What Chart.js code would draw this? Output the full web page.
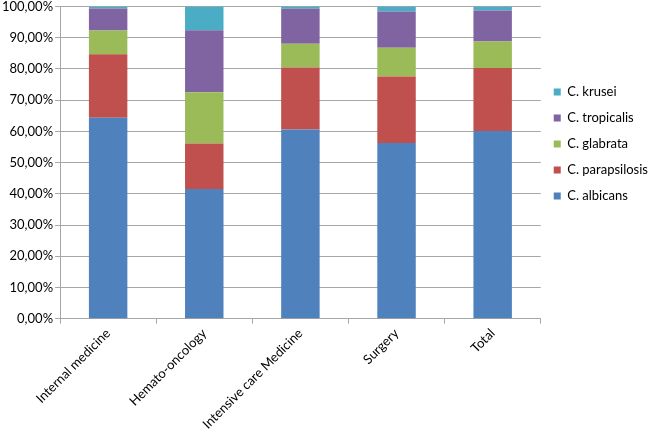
<!DOCTYPE html>
<html>
<head>
<meta charset="utf-8">
<script src="https://cdn.jsdelivr.net/npm/chart.js@4"></script>
<style>
  html, body { margin: 0; padding: 0; background: #fff; }
  #wrap { width: 650px; height: 434px; }
</style>
</head>
<body>
<div id="wrap"><canvas id="myChart"></canvas></div>
<script>
// wards (x axis)
const wards = ['Internal medicine', 'Hemato-oncology', 'Intensive care Medicine', 'Surgery', 'Total'];

// share of each species per ward, in percent
const albicans     = [64.4, 41.5, 60.6, 56.3, 60.1];
const parapsilosis = [20.3, 14.6, 19.9, 21.3, 20.2];
const glabrata     = [7.6, 16.4, 7.6, 9.2, 8.5];
const tropicalis   = [7.1, 19.9, 11.2, 11.6, 9.9];
const krusei       = [0.6, 7.6, 0.7, 1.6, 1.3];

const yTicks = [0, 10, 20, 30, 40, 50, 60, 70, 80, 90, 100];

const fontFam = 'Lato, "Open Sans", sans-serif';
const gridCol = '#a6a6a6';

function series(label, data, color) {
  return { label: label, data: data, backgroundColor: color, borderWidth: 0 };
}

const ctx = document.getElementById('myChart');
new Chart(ctx, {
  type: 'bar',
  data: {
    labels: wards,
    datasets: [
      series('C. albicans', albicans, '#4f81bd'),
      series('C. parapsilosis', parapsilosis, '#c0504d'),
      series('C. glabrata', glabrata, '#9bbb59'),
      series('C. tropicalis', tropicalis, '#8064a2'),
      series('C. krusei', krusei, '#4bacc6')
    ]
  },
  options: {
    responsive: true,
    maintainAspectRatio: false,
    animation: false,
    layout: { padding: { left: 0, right: -8, top: 0, bottom: 0 } },
    datasets: {
      bar: { categoryPercentage: 1, barPercentage: 0.4 }
    },
    plugins: {
      tooltip: { enabled: false },
      legend: {
        position: 'right',
        align: 'start',
        reverse: true,
        title: { display: true, text: ' ', padding: { top: 58, bottom: 0 } },
        labels: {
          boxWidth: 7,
          boxHeight: 7,
          padding: 13,
          color: '#000',
          font: { family: fontFam, size: 13 }
        }
      }
    },
    scales: {
      x: {
        stacked: true,
        grid: {
          offset: true,
          drawOnChartArea: false,
          drawTicks: true,
          tickLength: 5,
          color: gridCol
        },
        border: { color: gridCol },
        ticks: {
          color: '#000',
          maxRotation: 45,
          minRotation: 45,
          padding: 2,
          font: { family: fontFam, size: 13 }
        }
      },
      y: {
        stacked: true,
        min: 0,
        max: 100,
        afterBuildTicks: axis => { axis.ticks = yTicks.map(v => ({ value: v })); },
        grid: { color: gridCol, tickLength: 5 },
        border: { color: gridCol },
        ticks: {
          color: '#000',
          padding: 2,
          font: { family: fontFam, size: 13, lineHeight: 0.7 },
          callback: v => v.toFixed(2).replace('.', ',') + '%'
        }
      }
    }
  }
});
</script>
</body>
</html>
